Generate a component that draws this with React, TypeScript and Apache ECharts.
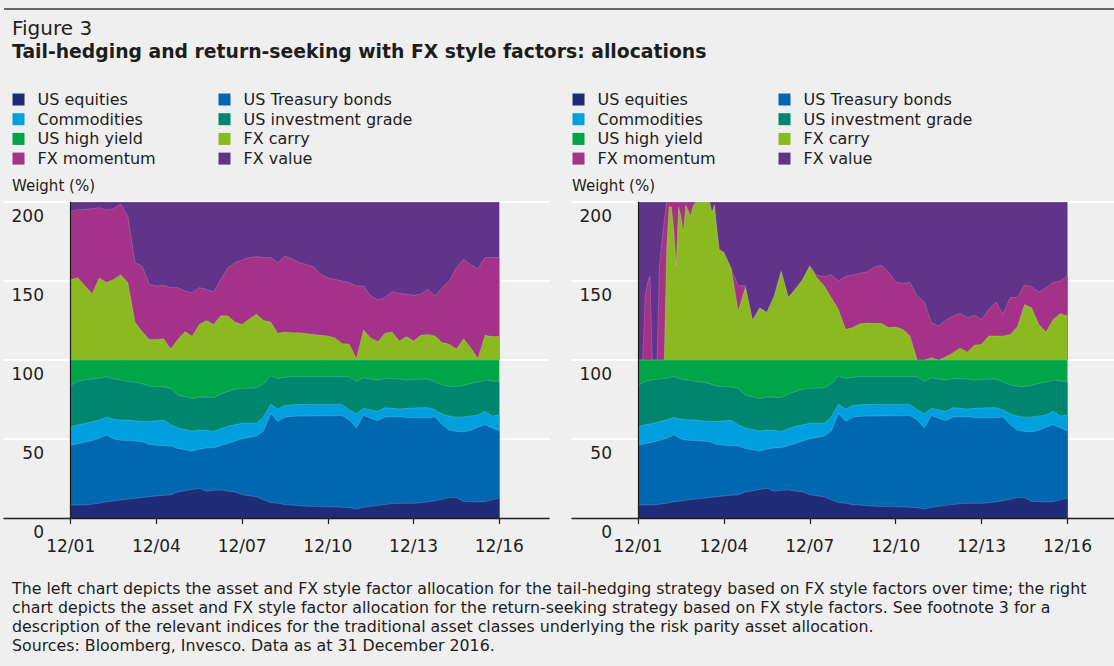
import React, { useEffect, useRef } from 'react';
import * as echarts from 'echarts';

// Months since December 2001 (0 = 12/01, 180 = 12/16)
const assetMonths = [0, 3, 6, 9, 12, 15, 18, 21, 24, 27, 30, 33, 36, 39, 42, 45, 48, 51, 54, 57, 60, 63, 66, 69, 72, 75, 78, 81, 84, 87, 90, 93, 96, 99, 102, 105, 108, 111, 114, 117, 120, 123, 126, 129, 132, 135, 138, 141, 144, 147, 150, 153, 156, 159, 162, 165, 168, 171, 174, 177, 180];

// Risk parity asset allocation (same in both panels), weight %
const usEquities = [8.2, 8.2, 8.2, 8.7, 9.3, 10.3, 10.8, 11.4, 12.0, 12.4, 13.0, 13.5, 14.0, 14.4, 14.6, 16.5, 17.2, 18.0, 18.8, 17.0, 17.5, 17.7, 17.0, 16.5, 14.8, 14.0, 13.5, 11.5, 9.8, 9.4, 8.4, 8.2, 7.8, 7.5, 7.3, 7.2, 7.1, 7.0, 6.8, 6.5, 5.7, 6.8, 7.4, 8.0, 8.5, 9.0, 9.3, 9.3, 9.3, 9.6, 10.3, 10.8, 11.8, 12.9, 12.8, 10.5, 10.3, 10.3, 10.3, 11.5, 12.5];
const usTreasury = [38.0, 38.8, 39.8, 40.3, 41.1, 42.2, 39.2, 37.8, 37.0, 36.3, 35.3, 33.0, 32.0, 31.4, 30.9, 27.5, 26.0, 24.3, 24.7, 27.3, 27.0, 28.1, 30.2, 32.2, 35.4, 37.0, 38.3, 43.5, 56.2, 51.6, 55.4, 56.1, 56.7, 57.0, 57.3, 57.4, 57.6, 57.7, 58.0, 55.5, 51.3, 58.2, 55.6, 53.5, 55.5, 55.1, 54.7, 54.3, 54.2, 53.9, 53.2, 53.1, 47.2, 42.6, 42.0, 44.0, 45.2, 47.2, 48.6, 45.5, 42.8];
const commodities = [11.6, 12.0, 11.8, 12.0, 11.6, 11.3, 12.5, 12.8, 13.0, 12.8, 13.0, 14.5, 15.5, 16.2, 13.5, 13.0, 12.8, 12.7, 12.2, 11.2, 10.3, 10.7, 10.8, 10.3, 9.7, 9.0, 8.2, 9.0, 6.0, 8.0, 7.4, 7.3, 7.3, 7.4, 7.3, 7.3, 7.2, 7.2, 7.1, 6.5, 9.0, 4.5, 5.4, 6.0, 5.8, 5.3, 5.0, 5.8, 6.1, 6.3, 6.3, 4.6, 6.8, 9.0, 9.0, 9.5, 9.0, 7.7, 8.6, 7.5, 9.9];
const usInvestmentGrade = [26.2, 27.5, 27.7, 27.0, 26.4, 25.7, 25.5, 25.3, 24.5, 24.5, 23.7, 22.5, 21.6, 21.1, 23.0, 20.8, 20.8, 20.7, 20.8, 21.0, 21.4, 22.0, 22.0, 22.5, 22.1, 22.2, 22.4, 21.0, 18.0, 19.4, 17.8, 17.9, 17.7, 17.6, 17.6, 17.6, 17.6, 17.6, 17.6, 20.8, 20.5, 19.3, 19.6, 19.8, 18.6, 18.8, 19.0, 17.9, 18.0, 18.2, 18.2, 17.5, 18.4, 18.9, 19.3, 20.0, 20.7, 20.8, 19.8, 22.2, 21.1];
const usHighYield = [16.0, 13.5, 12.5, 12.0, 11.6, 10.5, 12.0, 12.7, 13.5, 14.0, 15.0, 16.5, 16.9, 16.9, 18.0, 22.2, 23.2, 24.3, 23.5, 23.5, 23.8, 21.5, 20.0, 18.5, 18.0, 17.8, 17.6, 15.0, 10.0, 11.6, 11.0, 10.5, 10.5, 10.5, 10.5, 10.5, 10.5, 10.5, 10.5, 10.7, 13.5, 11.2, 12.0, 12.7, 11.6, 11.8, 12.0, 12.7, 12.4, 12.0, 12.0, 14.0, 15.8, 16.6, 16.9, 16.0, 14.8, 14.0, 12.7, 13.3, 13.7];

// Left panel: tail-hedging FX style factor allocation (on assetMonths), weight % above the 100 line
const leftCarry = [51, 52, 47, 42, 52, 49, 51, 54, 49, 24, 18, 13, 13, 13.5, 7, 13, 18, 15, 22.5, 25, 22.5, 28, 28, 24, 22.5, 26, 29, 25, 24, 17, 17.7, 17.3, 17.3, 16.7, 16.2, 15.6, 15.2, 14, 10.5, 10, 1, 19, 14, 11.6, 17, 17.7, 12, 14.8, 12, 15.6, 16.2, 15.2, 11, 10, 7, 13.5, 7.8, 1, 15.6, 14.8, 14.8];
const leftMomentum = [43.3, 43.0, 48.4, 53.8, 44.4, 46.0, 44.8, 44.7, 42.0, 37.6, 41.5, 34.9, 33.8, 33.8, 38.8, 32.8, 25.7, 27.6, 23.3, 19.7, 20.5, 23.0, 30.4, 37.6, 40.8, 38.8, 36.4, 39.8, 40.8, 44.6, 48.1, 46.8, 44.3, 43.8, 42.8, 38.6, 36.8, 37.0, 39.5, 39.0, 45.8, 27.8, 26.5, 26.4, 22.5, 25.5, 30.2, 26.8, 29.0, 26.0, 28.5, 25.3, 34.8, 40.0, 51.4, 50.2, 52.7, 56.8, 49.2, 50.0, 50.0];
const leftValue = [5.7, 5.0, 4.6, 4.2, 3.6, 5.0, 4.2, 1.3, 9.0, 38.4, 40.5, 52.1, 53.2, 52.7, 54.2, 54.2, 56.3, 57.4, 54.2, 55.3, 57.0, 49.0, 41.6, 38.4, 36.7, 35.2, 34.6, 35.2, 35.2, 38.4, 34.2, 35.9, 38.4, 39.5, 41.0, 45.8, 48.0, 49.0, 50.0, 51.0, 53.2, 53.2, 59.5, 62.0, 60.5, 56.8, 57.8, 58.4, 59.0, 58.4, 55.3, 59.5, 54.2, 50.0, 41.6, 36.3, 39.5, 42.2, 35.2, 35.2, 35.2];

// Right panel: return-seeking FX style factor allocation
const rightMonths = [0, 1, 2, 3, 4, 5, 6, 7, 8, 9, 10, 11, 12, 13, 14, 15, 16, 17, 18, 19, 20, 21, 22, 23, 24, 25, 26, 27, 28, 29, 30, 31, 32, 33, 34, 35, 36, 39, 42, 45, 48, 51, 54, 57, 60, 63, 66, 69, 72, 75, 78, 81, 84, 87, 90, 93, 96, 99, 102, 105, 108, 111, 114, 117, 120, 123, 126, 129, 132, 135, 138, 141, 144, 147, 150, 153, 156, 159, 162, 165, 168, 171, 174, 177, 180];
const rightCarry = [0, 0, 0, 0, 0, 0, 0, 0, 0, 0, 0, 0, 70, 97, 97, 83, 60, 97, 91, 81, 98, 95, 91, 97, 100, 100, 100, 100, 100, 100, 100, 93, 98, 83, 70, 69, 68, 58, 31, 46, 25, 33, 30, 40, 56, 39.5, 45, 51, 59.5, 52, 47, 39.5, 32, 19.4, 20.5, 23, 23.4, 23.2, 23.2, 20.5, 20.9, 19.4, 15.2, 0, 0, 1.5, 0, 2, 4.6, 7.6, 5, 9.3, 10, 15.2, 15.2, 15.2, 16.2, 21, 35.2, 33, 22.5, 17.7, 25.7, 29.5, 27.8];
const rightMomentum = [0, 0, 0, 40, 49, 53, 0, 0, 0, 60, 74, 88, 30, 3, 3, 17, 40, 3, 9, 19, 2, 5, 9, 3, 0, 0, 0, 0, 0, 0, 0, 0, 0, 0, 0, 0, 0, 0, 16, 1, 0, 0, 0, 0, 0, 0, 0, 0, 0, 1.6, 5.7, 14.5, 18, 33.6, 33.1, 31.9, 32.3, 35.7, 36.7, 35.2, 28.5, 29.1, 33.8, 40.5, 36.7, 22.1, 21.5, 23.3, 23.2, 21.9, 21.8, 19, 15.7, 16.8, 21.5, 13.7, 23.3, 18.5, 12.3, 13.4, 20.5, 28.1, 23.3, 20.5, 25.4];
const rightValue = [100, 100, 100, 60, 51, 47, 100, 100, 100, 40, 26, 12, 0, 0, 0, 0, 0, 0, 0, 0, 0, 0, 0, 0, 0, 0, 0, 0, 0, 0, 0, 7, 2, 17, 30, 31, 32, 42, 53, 53, 75, 67, 70, 60, 44, 60.5, 55, 49, 40.5, 46.4, 47.3, 46, 50, 47, 46.4, 45.1, 44.3, 41.1, 40.1, 44.3, 50.6, 51.5, 51, 59.5, 63.3, 76.4, 78.5, 74.7, 72.2, 70.5, 73.2, 71.7, 74.3, 68, 63.3, 71.1, 60.5, 60.5, 52.5, 53.6, 57, 54.2, 51, 50, 46.8];

const yTicks = [0, 50, 100, 150, 200];

const legendColA = ['US equities', 'Commodities', 'US high yield', 'FX momentum'];
const legendColB = ['US Treasury bonds', 'US investment grade', 'FX carry', 'FX value'];

const footerLines = [
  'The left chart depicts the asset and FX style factor allocation for the tail-hedging strategy based on FX style factors over time; the right',
  'chart depicts the asset and FX style factor allocation for the return-seeking strategy based on FX style factors. See footnote 3 for a',
  'description of the relevant indices for the traditional asset classes underlying the risk parity asset allocation.',
  'Sources: Bloomberg, Invesco. Data as at 31 December 2016.',
];

const COLORS: Record<string, string> = {
  'US equities': '#1f2c79',
  'US Treasury bonds': '#0067b0',
  'Commodities': '#00a0df',
  'US investment grade': '#00866f',
  'US high yield': '#00a547',
  'FX carry': '#8bba20',
  'FX momentum': '#a33288',
  'FX value': '#5f3489',
};

const FONT = '"DejaVu Sans", sans-serif';
const TEXT = '#1d1d1b';

// running totals of stacked layers (layer k's upper edge)
function cumulate(layers: number[][]): number[][] {
  const out: number[][] = [];
  layers.forEach((arr, k) => {
    out.push(arr.map((v, i) => Math.round(((k > 0 ? out[k - 1][i] : 0) + v) * 100) / 100));
  });
  return out;
}

function area(name: string, grid: number, xs: number[], tops: number[], z: number) {
  const color = COLORS[name];
  return {
    type: 'line',
    name,
    xAxisIndex: grid,
    yAxisIndex: grid,
    data: xs.map((x, i) => [x, tops[i]]),
    symbol: 'none',
    showSymbol: false,
    lineStyle: { width: 0.6, color: 'rgba(255,255,255,0.3)' },
    areaStyle: { color, opacity: 1, origin: 'start' },
    itemStyle: { color },
    emphasis: { disabled: true },
    silent: true,
    z,
  };
}

function panelGrids(wideLeft: number, wideWidth: number, plotLeft: number, plotWidth: number) {
  return [
    { left: wideLeft, width: wideWidth, top: 202, height: 316 },
    { left: plotLeft, width: plotWidth, top: 360, height: 158 },
    { left: plotLeft, width: plotWidth, top: 202, height: 158 },
  ].map((g) => ({ ...g, containLabel: false, outerBoundsMode: 'none', show: false }));
}

export default function App() {
  const ref = useRef<HTMLDivElement>(null);
  useEffect(() => {
    if (!ref.current) return;
    const chart = echarts.init(ref.current, null, { renderer: 'svg' });

    const grid = [...panelGrids(4, 545, 70.7, 428.6), ...panelGrids(572, 542, 638, 429.5)];

    const xAxis: any[] = [];
    const yAxis: any[] = [];
    [0, 3].forEach((base) => {
      xAxis.push({
        gridIndex: base, type: 'value', min: 0, max: 1, z: 5,
        axisLine: { show: true, lineStyle: { color: TEXT, width: 1.4 } },
        axisTick: { show: false }, axisLabel: { show: false }, splitLine: { show: false },
      });
      xAxis.push({
        gridIndex: base + 1, type: 'value', min: 0, max: 180, interval: 36,
        axisLine: { show: false },
        axisTick: { show: true, length: 6, lineStyle: { color: TEXT, width: 1.2 } },
        axisLabel: {
          show: true, fontSize: 17, fontFamily: FONT, color: TEXT, margin: 19,
          showMinLabel: true, showMaxLabel: true,
          formatter: (v: number) => '12/' + String((1 + v / 12) % 100).padStart(2, '0'),
        },
        splitLine: { show: false },
      });
      xAxis.push({ gridIndex: base + 2, type: 'value', min: 0, max: 180, show: false });

      yAxis.push({
        gridIndex: base, type: 'value', min: 0, max: 200, interval: 50, offset: -40,
        axisLine: { show: false }, axisTick: { show: false },
        axisLabel: {
          show: true, fontSize: 17, fontFamily: FONT, color: TEXT, margin: 0,
          align: 'right', verticalAlign: 'top', padding: [5, 0, 0, 0],
          formatter: (v: number) => (yTicks.includes(v) ? String(v) : ''),
        },
        splitLine: { show: true, showMinLine: false, lineStyle: { color: '#ffffff', width: 2 } },
      });
      [1, 2].forEach((k) => {
        yAxis.push({
          gridIndex: base + k, type: 'value', min: 0, max: 100, z: 5,
          axisLine: { show: true, lineStyle: { color: TEXT, width: 1.2 } },
          axisTick: { show: false }, axisLabel: { show: false }, splitLine: { show: false },
        });
      });
    });

    const assetNames = ['US equities', 'US Treasury bonds', 'Commodities', 'US investment grade', 'US high yield'];
    const assetTops = cumulate([usEquities, usTreasury, commodities, usInvestmentGrade, usHighYield]);
    const fxNames = ['FX carry', 'FX momentum', 'FX value'];
    const leftFxTops = cumulate([leftCarry, leftMomentum, leftValue]);
    const rightFxTops = cumulate([rightCarry, rightMomentum, rightValue]);

    // Stacked look: draw each layer's upper edge filled down to the axis, highest layer first
    const series: any[] = [];
    const addStack = (names: string[], tops: number[][], gridIdx: number, xs: number[]) => {
      for (let k = names.length - 1; k >= 0; k--) {
        series.push(area(names[k], gridIdx, xs, tops[k], 2 + (names.length - 1 - k) * 0.01));
      }
    };
    addStack(assetNames, assetTops, 1, assetMonths);
    addStack(fxNames, leftFxTops, 2, assetMonths);
    addStack(assetNames, assetTops, 4, assetMonths);
    addStack(fxNames, rightFxTops, 5, rightMonths);

    const legendBase = {
      orient: 'vertical', top: 91.5, padding: 0, itemWidth: 12, itemHeight: 12, itemGap: 3.7,
      icon: 'rect', selectedMode: false,
      textStyle: { fontSize: 16, lineHeight: 16, fontFamily: FONT, color: TEXT, padding: [0, 0, 0, 8] },
    };
    const legend = [
      { ...legendBase, left: 12.5, data: legendColA },
      { ...legendBase, left: 218.5, data: legendColB },
      { ...legendBase, left: 572.5, data: legendColA },
      { ...legendBase, left: 778.5, data: legendColB },
    ];

    const txt = (text: string, x: number, y: number, font: string) => ({
      type: 'text', x, y, silent: true,
      style: { text, font, fill: TEXT, textAlign: 'left', textVerticalAlign: 'middle', align: 'left', verticalAlign: 'middle' },
    });

    const elements: any[] = [
      { type: 'line', silent: true, shape: { x1: 4, y1: 9, x2: 1114, y2: 9 }, style: { stroke: '#3a3a3a', lineWidth: 1.5 } },
      txt('Figure 3', 12, 28, `20px ${FONT}`),
      txt('Tail-hedging and return-seeking with FX style factors: allocations', 12, 51, `bold 18.8px ${FONT}`),
      txt('Weight (%)', 12, 186, `15px ${FONT}`),
      txt('Weight (%)', 572, 186, `15px ${FONT}`),
      ...footerLines.map((l, i) => txt(l, 12, 588 + i * 19.3, `15.8px ${FONT}`)),
    ];

    chart.setOption({
      animation: false,
      backgroundColor: '#efefef',
      textStyle: { fontFamily: FONT },
      grid,
      xAxis,
      yAxis,
      legend,
      series,
      graphic: { elements },
    });
    return () => chart.dispose();
  }, []);
  return (
    <div
      ref={ref}
      style={{ position: 'absolute', left: 0, top: 0, width: 1114, height: 666, background: '#efefef' }}
    />
  );
}
